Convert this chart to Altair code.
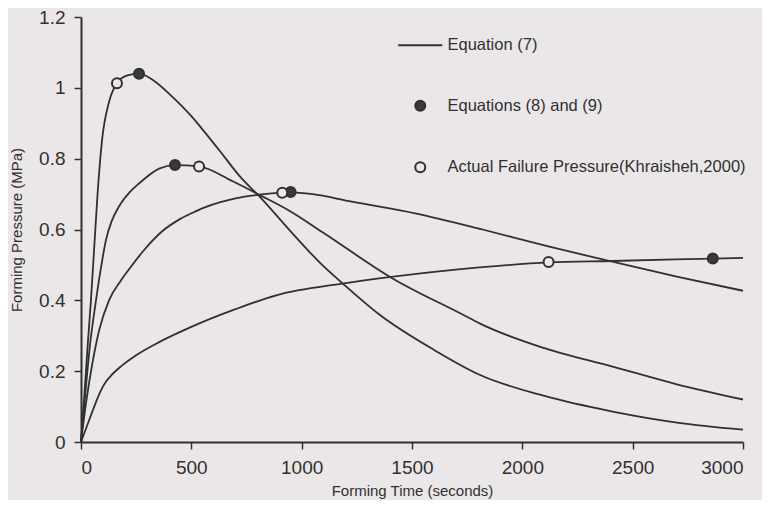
import altair as alt
import pandas as pd

BG = "#ebe7e9"
INK = "#303030"

# Equation (7) curves (forming time in s, forming pressure in MPa)
a_t = [0, 15, 30, 45, 60, 75, 95, 127, 163, 210, 263, 330, 413, 500, 567, 650, 717, 817, 950, 1080, 1200, 1352, 1600, 1806, 2100, 2409, 2700, 3000]
a_p = [0, 0.13, 0.27, 0.40, 0.55, 0.70, 0.85, 0.96, 1.013, 1.035, 1.04, 1.02, 0.975, 0.92, 0.87, 0.805, 0.752, 0.688, 0.595, 0.508, 0.44, 0.36, 0.26, 0.19, 0.13, 0.086, 0.055, 0.035]

b_t = [0, 20, 40, 68, 90, 113, 140, 172, 220, 263, 354, 426, 535, 685, 817, 944, 1100, 1406, 1729, 1806, 2100, 2409, 2700, 3000]
b_p = [0, 0.14, 0.27, 0.40, 0.49, 0.57, 0.625, 0.665, 0.705, 0.73, 0.772, 0.782, 0.778, 0.737, 0.695, 0.653, 0.59, 0.464, 0.36, 0.335, 0.265, 0.213, 0.163, 0.12]

c_t = [0, 25, 51, 82, 127, 181, 218, 290, 368, 450, 522, 567, 700, 817, 912, 950, 1050, 1216, 1520, 1820, 2100, 2409, 2700, 3000]
c_p = [0, 0.12, 0.22, 0.315, 0.40, 0.456, 0.488, 0.545, 0.595, 0.63, 0.652, 0.664, 0.688, 0.699, 0.704, 0.705, 0.70, 0.68, 0.645, 0.60, 0.555, 0.509, 0.467, 0.427]

d_t = [0, 30, 60, 90, 115, 140, 180, 250, 354, 500, 700, 889, 1184, 1406, 1806, 2119, 2409, 2863, 3000]
d_p = [0, 0.05, 0.10, 0.145, 0.172, 0.19, 0.213, 0.245, 0.282, 0.325, 0.375, 0.415, 0.447, 0.466, 0.493, 0.507, 0.511, 0.518, 0.52]

# Markers
filled_t = [263, 426, 950, 2863]
filled_p = [1.04, 0.782, 0.706, 0.518]
open_t = [163, 535, 912, 2119]
open_p = [1.013, 0.778, 0.704, 0.508]

LINE_LABEL = "Equation (7)"
FILLED_LABEL = "Equations (8) and (9)"
OPEN_LABEL = "Actual Failure Pressure(Khraisheh,2000)"
series_domain = [LINE_LABEL, FILLED_LABEL, OPEN_LABEL]

rows = []
for name, ts, ps in [("A", a_t, a_p), ("B", b_t, b_p), ("C", c_t, c_p), ("D", d_t, d_p)]:
    for t, p in zip(ts, ps):
        rows.append({"curve": name, "t": t, "p": p})
lines_df = pd.DataFrame(rows)

pts = [{"t": t, "p": p, "series": FILLED_LABEL} for t, p in zip(filled_t, filled_p)]
pts += [{"t": t, "p": p, "series": OPEN_LABEL} for t, p in zip(open_t, open_p)]
pts_df = pd.DataFrame(pts)

x_enc = alt.X("t:Q", scale=alt.Scale(domain=[0, 3000], nice=False),
              axis=alt.Axis(values=[0, 500, 1000, 1500, 2000, 2500, 3000], format="d",
                            title="Forming Time (seconds)", titlePadding=6, labelPadding=9))
y_enc = alt.Y("p:Q", scale=alt.Scale(domain=[0, 1.2], nice=False),
              axis=alt.Axis(values=[0, 0.2, 0.4, 0.6, 0.8, 1.0, 1.2], format="~g",
                            title="Forming Pressure (MPa)", titlePadding=14, labelPadding=9))

lines = alt.Chart(lines_df).mark_line(color=INK, strokeWidth=1.8, interpolate="monotone").encode(
    x=x_enc, y=y_enc, detail="curve:N"
)

legend = alt.Legend(
    title=None, orient="none", legendX=331, legendY=20, padding=0,
    rowPadding=42.5, labelFontSize=16.5, labelFont="Liberation Sans", labelColor=INK,
    labelOffset=19, labelLimit=0, symbolSize=100, symbolStrokeWidth=2,
    symbolStrokeColor=INK, symbolOpacity=1,
)

points = alt.Chart(pts_df).mark_point(strokeWidth=2, size=100, opacity=1).encode(
    x="t:Q", y="p:Q",
    shape=alt.Shape("series:N", scale=alt.Scale(domain=series_domain,
                    range=["M-4.4,0H4.4", "circle", "circle"]), legend=legend),
    fill=alt.Fill("series:N", scale=alt.Scale(domain=series_domain,
                  range=[INK, "#3a3a3a", BG]), legend=legend),
    stroke=alt.Stroke("series:N", scale=alt.Scale(domain=series_domain,
                      range=[INK, INK, INK]), legend=legend),
)

chart = alt.layer(lines, points).properties(
    width=662, height=425, background=BG,
    padding={"left": 73, "top": 9, "right": 19, "bottom": 58},
    autosize=alt.AutoSizeParams(type="none"),
).configure_view(stroke=None).configure_axis(
    grid=False, domainColor=INK, domainWidth=2, tickColor=INK, tickWidth=1.5, tickSize=7,
    labelFont="Liberation Sans", labelFontSize=19, labelColor=INK,
    titleFont="Liberation Sans", titleFontSize=15, titleFontWeight="normal", titleColor=INK,
)

chart.save("out.html", embed_options={"renderer": "svg", "actions": False})
